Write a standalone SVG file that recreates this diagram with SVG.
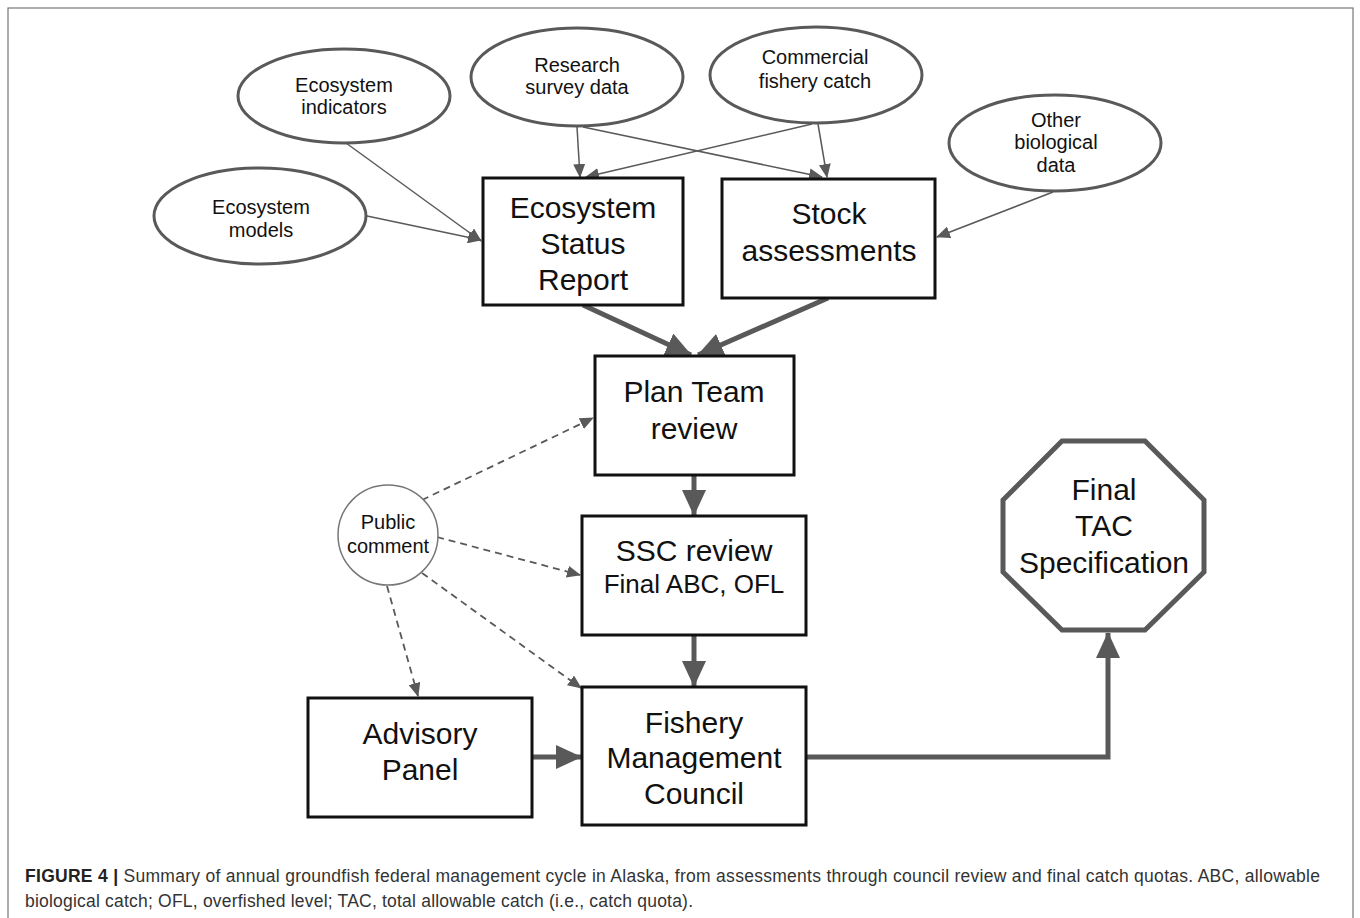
<svg xmlns="http://www.w3.org/2000/svg" width="1360" height="918" viewBox="0 0 1360 918">
<style>
.ell{fill:#fff;stroke:#595959;stroke-width:3}
.box{fill:#fff;stroke:#111;stroke-width:3}
.t20{font-family:"Liberation Sans",Arial,sans-serif;font-size:20px;fill:#111;text-anchor:middle}
.t30{font-family:"Liberation Sans",Arial,sans-serif;font-size:30px;fill:#111;text-anchor:middle}
.t26{font-family:"Liberation Sans",Arial,sans-serif;font-size:26px;fill:#111;text-anchor:middle}
.thin{stroke:#595959;stroke-width:1.5;fill:none}
.thick{stroke:#595959;stroke-width:5;fill:none}
.dash{stroke:#595959;stroke-width:1.8;fill:none;stroke-dasharray:7 5}
.cap{font-family:"Liberation Sans",Arial,sans-serif;font-size:17.5px;fill:#333}
</style>
<defs>
<marker id="ah" markerUnits="userSpaceOnUse" markerWidth="14" markerHeight="12" refX="13" refY="6" orient="auto"><path d="M0,0 L14,6 L0,12 z" fill="#595959"/></marker>
<marker id="ahT" markerUnits="userSpaceOnUse" markerWidth="26" markerHeight="24" refX="25" refY="12" orient="auto"><path d="M0,0 L26,12 L0,24 z" fill="#595959"/></marker>
</defs>
<rect x="0" y="0" width="1360" height="918" fill="#fff"/>
<rect x="8" y="8" width="1345" height="920" fill="none" stroke="#777" stroke-width="1.2"/>

<g id="connectors">
<line class="thin" x1="346" y1="143" x2="481" y2="241" marker-end="url(#ah)"/>
<line class="thin" x1="367" y1="216" x2="481" y2="240" marker-end="url(#ah)"/>
<line class="thin" x1="577" y1="127" x2="580" y2="177" marker-end="url(#ah)"/>
<line class="thin" x1="583" y1="127" x2="822" y2="177" marker-end="url(#ah)"/>
<line class="thin" x1="812" y1="124" x2="586" y2="177" marker-end="url(#ah)"/>
<line class="thin" x1="818" y1="124" x2="827" y2="177" marker-end="url(#ah)"/>
<line class="thin" x1="1053" y1="192" x2="937" y2="237" marker-end="url(#ah)"/>
<line class="thick" x1="583" y1="305" x2="691" y2="355" marker-end="url(#ahT)"/>
<line class="thick" x1="828" y1="298" x2="698" y2="355" marker-end="url(#ahT)"/>
<line class="thick" x1="694" y1="476" x2="694" y2="515" marker-end="url(#ahT)"/>
<line class="thick" x1="694" y1="636" x2="694" y2="686" marker-end="url(#ahT)"/>
<line class="thick" x1="533" y1="757" x2="581" y2="757" marker-end="url(#ahT)"/>
<polyline class="thick" points="807,757 1108,757 1108,633" marker-end="url(#ahT)"/>
<line class="dash" x1="422" y1="500" x2="593" y2="418" marker-end="url(#ah)"/>
<line class="dash" x1="437" y1="537" x2="580" y2="575" marker-end="url(#ah)"/>
<line class="dash" x1="422" y1="573" x2="581" y2="688" marker-end="url(#ah)"/>
<line class="dash" x1="387" y1="586" x2="418" y2="696" marker-end="url(#ah)"/>
</g>

<g id="ecosystem-indicators"><ellipse class="ell" cx="344" cy="96" rx="106" ry="47"/><text class="t20" x="344" y="92">Ecosystem</text><text class="t20" x="344" y="114">indicators</text></g>
<g id="research-survey"><ellipse class="ell" cx="577" cy="77" rx="106" ry="49"/><text class="t20" x="577" y="72">Research</text><text class="t20" x="577" y="94">survey data</text></g>
<g id="commercial-catch"><ellipse class="ell" cx="816" cy="75" rx="106" ry="48"/><text class="t20" x="815" y="64">Commercial</text><text class="t20" x="815" y="88">fishery catch</text></g>
<g id="other-biological"><ellipse class="ell" cx="1055" cy="143" rx="106" ry="48"/><text class="t20" x="1056" y="127">Other</text><text class="t20" x="1056" y="149">biological</text><text class="t20" x="1056" y="172">data</text></g>
<g id="ecosystem-models"><ellipse class="ell" cx="260" cy="216" rx="106" ry="48"/><text class="t20" x="261" y="214">Ecosystem</text><text class="t20" x="261" y="237">models</text></g>

<g id="ecosystem-status-report"><rect class="box" x="483" y="178" width="200" height="127"/><text class="t30" x="583" y="218">Ecosystem</text><text class="t30" x="583" y="254">Status</text><text class="t30" x="583" y="290">Report</text></g>
<g id="stock-assessments"><rect class="box" x="722" y="179" width="213" height="119"/><text class="t30" x="829" y="224">Stock</text><text class="t30" x="829" y="261">assessments</text></g>
<g id="plan-team"><rect class="box" x="595" y="356" width="199" height="119"/><text class="t30" x="694" y="402">Plan Team</text><text class="t30" x="694" y="439">review</text></g>
<g id="ssc-review"><rect class="box" x="582" y="516" width="224" height="119"/><text class="t30" x="694" y="561">SSC review</text><text class="t26" x="694" y="593">Final ABC, OFL</text></g>
<g id="fishery-council"><rect class="box" x="582" y="687" width="224" height="138"/><text class="t30" x="694" y="733">Fishery</text><text class="t30" x="694" y="768">Management</text><text class="t30" x="694" y="804">Council</text></g>
<g id="advisory-panel"><rect class="box" x="308" y="698" width="224" height="119"/><text class="t30" x="420" y="744">Advisory</text><text class="t30" x="420" y="780">Panel</text></g>
<g id="final-tac"><polygon points="1062,441 1145,441 1204,500 1204,572 1145,630 1062,630 1003,572 1003,500" fill="#fff" stroke="#595959" stroke-width="5"/><text class="t30" x="1104" y="500">Final</text><text class="t30" x="1104" y="536">TAC</text><text class="t30" x="1104" y="573">Specification</text></g>
<g id="public-comment"><circle cx="388" cy="535" r="50" fill="#fff" stroke="#777" stroke-width="1.5"/><text class="t20" x="388" y="529">Public</text><text class="t20" x="388" y="553">comment</text></g>

<g id="caption">
<text class="cap" x="25" y="882" textLength="1295"><tspan font-weight="bold" fill="#222">FIGURE 4 |</tspan> Summary of annual groundfish federal management cycle in Alaska, from assessments through council review and final catch quotas. ABC, allowable</text>
<text class="cap" x="25" y="907" textLength="668">biological catch; OFL, overfished level; TAC, total allowable catch (i.e., catch quota).</text>
</g>
</svg>
